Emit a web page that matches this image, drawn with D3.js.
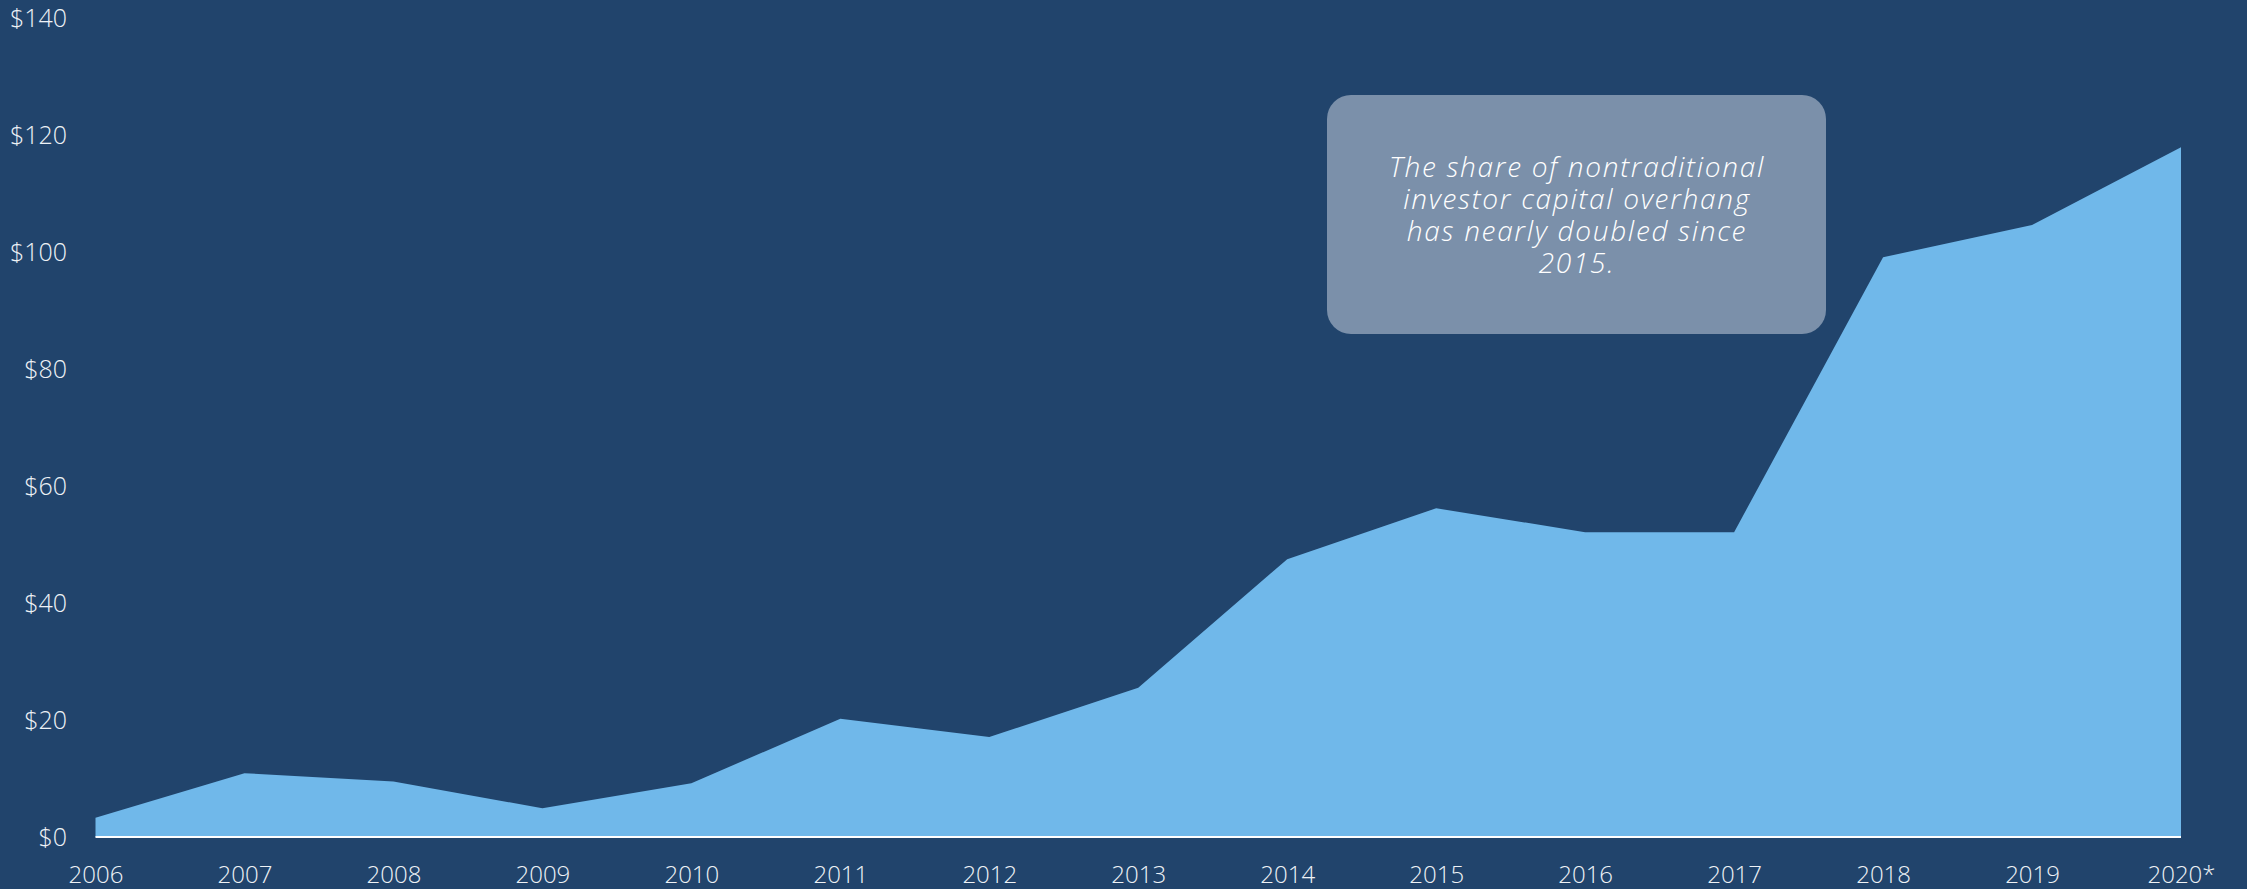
<!DOCTYPE html>
<html>
<head>
<meta charset="utf-8">
<script src="https://cdn.jsdelivr.net/npm/d3@7/dist/d3.min.js"></script>
<style>
  html, body { margin: 0; padding: 0; background: #21446c; }
  svg { display: block; }
</style>
</head>
<body>
<svg id="chart" width="2247" height="889"></svg>
<script>
// Nontraditional investor capital overhang ($B), 2006–2020*
const years = ["2006","2007","2008","2009","2010","2011","2012","2013","2014","2015","2016","2017","2018","2019","2020*"];
const overhang = [3.3, 10.9, 9.5, 4.9, 9.2, 20.2, 17.1, 25.5, 47.5, 56.2, 52.1, 52.1, 99.1, 104.6, 117.9];
const yTicks = [0, 20, 40, 60, 80, 100, 120, 140];
const noteLines = [
  "The share of nontraditional",
  "investor capital overhang",
  "has nearly doubled since",
  "2015."
];

const svg = d3.select("#chart");
const W = 2247, H = 889;

svg.append("rect").attr("width", W).attr("height", H).attr("fill", "#21446c");

const x = d3.scalePoint().domain(years).range([95.5, 2181]);
const y = d3.scaleLinear().domain([0, 140]).range([837, 18]);

const data = years.map((yr, i) => ({ year: yr, value: overhang[i] }));

// Filled area
const area = d3.area()
  .x(d => x(d.year))
  .y0(y(0))
  .y1(d => y(d.value));

svg.append("path")
  .datum(data)
  .attr("d", area)
  .attr("fill", "#70b8ea");

// Baseline
svg.append("line")
  .attr("x1", x(years[0]))
  .attr("x2", x(years[years.length - 1]))
  .attr("y1", y(0))
  .attr("y2", y(0))
  .attr("stroke", "#ffffff")
  .attr("stroke-width", 2);

// Y axis
const yAxis = svg.append("g")
  .attr("transform", "translate(95,0)")
  .call(d3.axisLeft(y).tickValues(yTicks).tickSize(0).tickPadding(28).tickFormat(d => "$" + d));
yAxis.select(".domain").remove();
yAxis.selectAll("text")
  .attr("fill", "#eef2f6")
  .style("font-family", "'Open Sans', 'DejaVu Sans', sans-serif")
  .style("font-weight", 300)
  .style("font-size", "25px");

// X axis
const xAxis = svg.append("g")
  .attr("transform", `translate(0,${y(0)})`)
  .call(d3.axisBottom(x).tickSize(0).tickPadding(29));
xAxis.select(".domain").remove();
xAxis.selectAll("text")
  .attr("fill", "#eef2f6")
  .style("font-family", "'Open Sans', 'DejaVu Sans', sans-serif")
  .style("font-weight", 300)
  .style("font-size", "24px");

// Annotation callout
const note = svg.append("g");
note.append("rect")
  .attr("x", 1327).attr("y", 95)
  .attr("width", 499).attr("height", 239)
  .attr("rx", 24).attr("ry", 24)
  .attr("fill", "#7b90aa");

note.append("text")
  .attr("text-anchor", "middle")
  .attr("fill", "#ffffff")
  .style("font-family", "'Open Sans', 'Noto Sans', sans-serif")
  .style("font-style", "italic")
  .style("font-weight", 300)
  .style("font-size", "28px")
  .style("letter-spacing", "1.7px")
  .selectAll("tspan")
  .data(noteLines)
  .join("tspan")
  .attr("x", 1577)
  .attr("y", (d, i) => 177 + i * 32)
  .text(d => d);
</script>
</body>
</html>
